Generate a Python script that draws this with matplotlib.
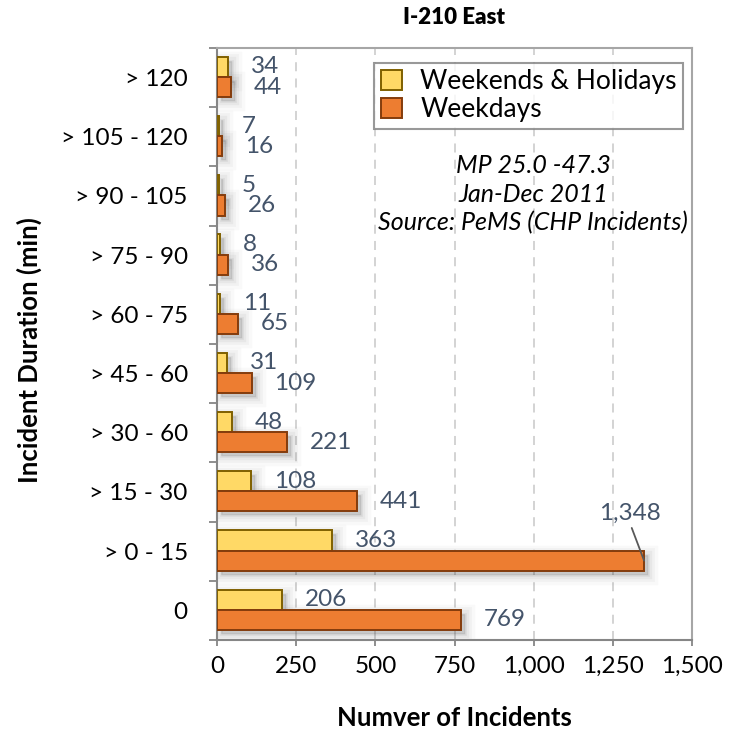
import matplotlib
matplotlib.use("Agg")
import matplotlib.pyplot as plt
import matplotlib.transforms as mtransforms
from matplotlib.ticker import FuncFormatter, FixedLocator
import numpy as np

plt.rcParams['font.family'] = ['Lato', 'DejaVu Sans']

durations = ["0", "> 0 - 15", "> 15 - 30", "> 30 - 60", "> 45 - 60", "> 60 - 75",
             "> 75 - 90", "> 90 - 105", "> 105 - 120", "> 120"]
weekends_holidays = [206, 363, 108, 48, 31, 11, 8, 5, 7, 34]
weekdays = [769, 1348, 441, 221, 109, 65, 36, 26, 16, 44]
x_ticks = [0, 250, 500, 750, 1000, 1250, 1500]

fig = plt.figure(figsize=(7.38, 7.33), dpi=100)
ax = fig.add_axes([0.294, 0.127, 0.644, 0.8075])

y = np.arange(len(durations))
h = 0.34
y_we = y + h / 2 + 0.01
y_wd = y - h / 2 + 0.01

# soft drop shadows behind the bars
shadow_tf = mtransforms.offset_copy(ax.transData, fig=fig, x=4, y=-4, units='dots')
for lw, a in [(14, 0.03), (10, 0.04), (6, 0.05), (2, 0.07)]:
    for pos, vals in [(y_we, weekends_holidays), (y_wd, weekdays)]:
        ax.barh(pos, vals, height=h, color='#404040', alpha=a, linewidth=lw,
                edgecolor='#404040', joinstyle='miter', transform=shadow_tf, zorder=1)

ax.barh(y_we, weekends_holidays, height=h, color='#FFD966', edgecolor='#7F6000',
        linewidth=1.4, zorder=3, label='Weekends & Holidays')
ax.barh(y_wd, weekdays, height=h, color='#ED7D31', edgecolor='#843C0C',
        linewidth=1.4, zorder=3, label='Weekdays')

label_color = '#44546A'
value_fs = 17.5
for pos, v in zip(y_we, weekends_holidays):
    ax.annotate(f"{v:,}", (v, pos), xytext=(16.5, 0), textcoords='offset points',
                ha='left', va='center', fontsize=value_fs, color=label_color, zorder=5)
for pos, v in zip(y_wd, weekdays):
    if v == max(weekdays):
        ax.annotate(f"{v:,}", (v, pos), xytext=(-10, 34), textcoords='offset points',
                    ha='center', va='center', fontsize=value_fs, color=label_color, zorder=5,
                    arrowprops=dict(arrowstyle='-', color='#595959', lw=1.3,
                                    relpos=(0.5, 0.0), shrinkA=1, shrinkB=0))
    else:
        ax.annotate(f"{v:,}", (v, pos), xytext=(16.5, 0), textcoords='offset points',
                    ha='left', va='center', fontsize=value_fs, color=label_color, zorder=5)

ax.set_xlim(0, 1500)
ax.set_ylim(-0.5, len(durations) - 0.5)
ax.set_xticks(x_ticks)
ax.xaxis.set_major_formatter(FuncFormatter(lambda v, p: f"{int(v):,}"))
ax.set_yticks(y)
ax.set_yticklabels(durations)
ax.yaxis.set_minor_locator(FixedLocator(np.arange(-0.5, len(durations), 1.0)))
ax.tick_params(axis='y', which='major', length=0, pad=21, labelsize=17.5)
ax.tick_params(axis='y', which='minor', length=6, width=1.3, color='#868686')
ax.tick_params(axis='x', which='major', length=4.5, width=1.3, color='#868686',
               pad=7, labelsize=17.5)

ax.grid(axis='x', linestyle=(0, (5, 4)), color='#D0D0D0', linewidth=1.3, zorder=0)
ax.set_axisbelow(True)
for side in ['left', 'bottom']:
    ax.spines[side].set_color('#868686')
    ax.spines[side].set_linewidth(1.5)
for side in ['top', 'right']:
    ax.spines[side].set_color('#A6A6A6')
    ax.spines[side].set_linewidth(1.5)

fig.text(454 / 738, 1 - 18 / 733, "I-210 East", ha='center', va='center',
         fontsize=16, fontweight='heavy')
ax.set_xlabel("Numver of Incidents", fontsize=18.5, fontweight='bold')
ax.set_ylabel("Incident Duration (min)", fontsize=18.5, fontweight='bold')
ax.xaxis.set_label_coords(0.5, -0.132)
ax.xaxis.label.set_va('center')
ax.yaxis.set_label_coords(-0.394, 0.49)
ax.yaxis.label.set_va('center')

leg = ax.legend(loc='upper right', bbox_to_anchor=(0.981, 0.975), borderaxespad=0,
                fontsize=19, frameon=True, fancybox=False, edgecolor='#808080',
                handlelength=0.8, handleheight=0.8, handletextpad=0.7, borderpad=0.25,
                labelspacing=0.1)
leg.get_frame().set_linewidth(1.5)

ax.text(0.665, 0.753, "MP 25.0 -47.3\nJan-Dec 2011\nSource: PeMS (CHP Incidents)",
        transform=ax.transAxes, ha='center', va='center', fontsize=18, style='italic',
        linespacing=1.3)

fig.savefig("out.png", dpi=100)
